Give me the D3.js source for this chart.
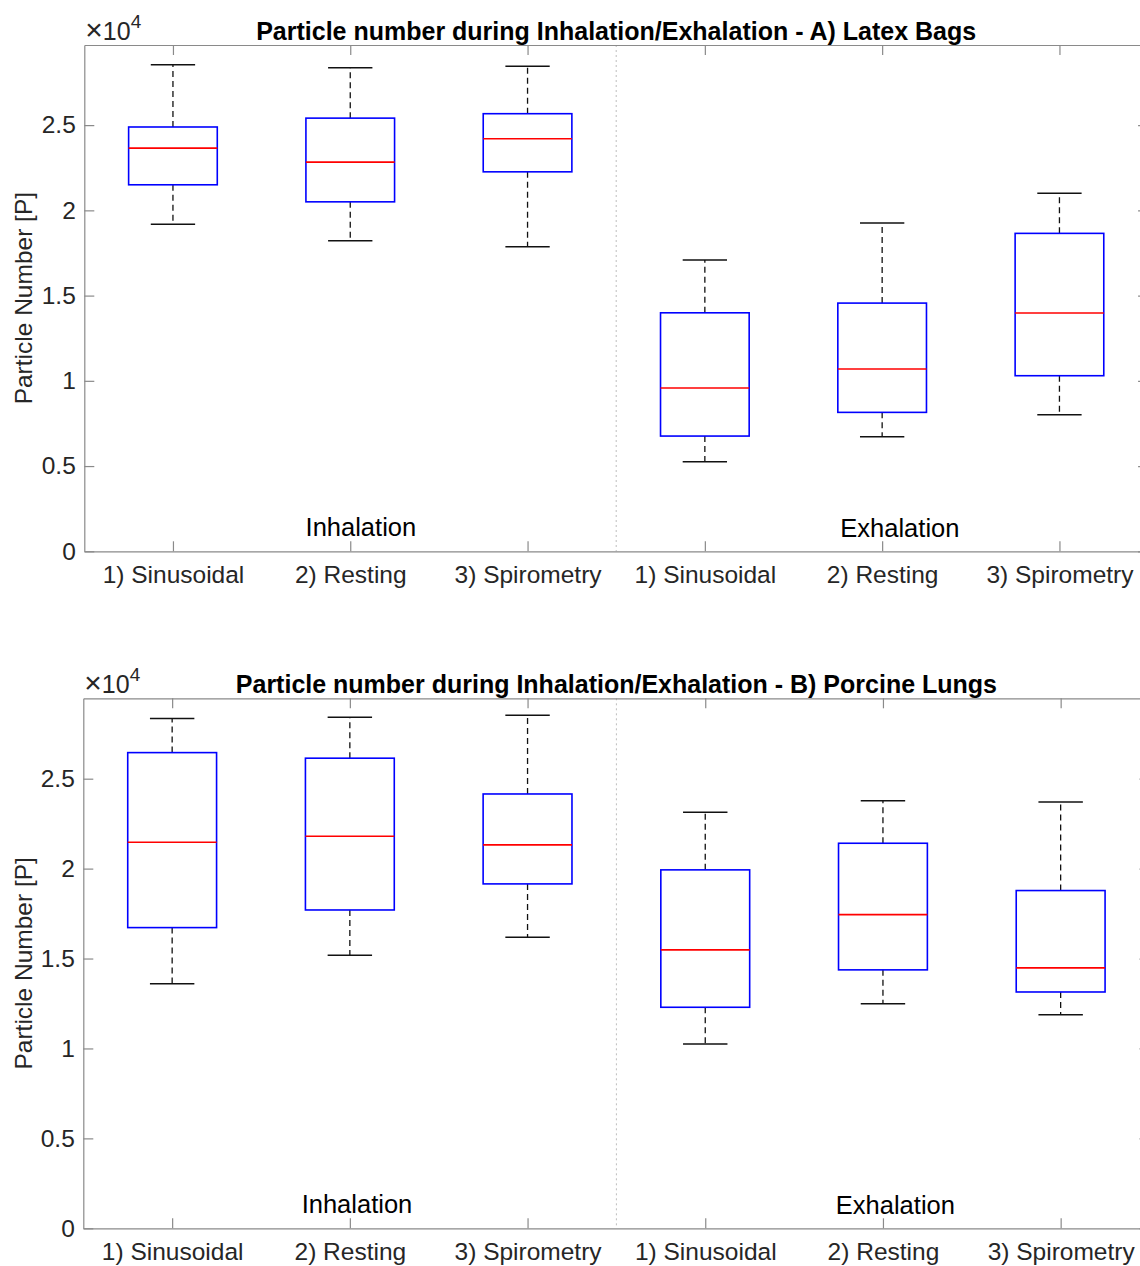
<!DOCTYPE html>
<html>
<head>
<meta charset="utf-8">
<script src="https://cdn.jsdelivr.net/npm/d3@7"></script>
<style>
  html, body { margin: 0; padding: 0; background: #fff; }
  svg { display: block; font-family: "Liberation Sans", Arial, Helvetica, sans-serif; }
</style>
</head>
<body>
<svg id="chart" width="1140" height="1266"></svg>
<script>
// Breathing patterns, three for inhalation then three for exhalation
const categories = ["1) Sinusoidal", "2) Resting", "3) Spirometry",
                    "1) Sinusoidal", "2) Resting", "3) Spirometry"];
const phaseLabels = ["Inhalation", "Exhalation"];
const yTickValues = [0, 5000, 10000, 15000, 20000, 25000];
const yTickLabels = ["0", "0.5", "1", "1.5", "2", "2.5"];
const panelTitles = [
  "Particle number during Inhalation/Exhalation - A) Latex Bags",
  "Particle number during Inhalation/Exhalation - B) Porcine Lungs"
];
const yLimits = [29700, 29470];

// A) Latex bags: whisker ends, quartiles and medians
const latexLower  = [19180, 18220, 17870,  5260,  6720,  8010];
const latexQ1     = [21500, 20500, 22260,  6760,  8150, 10300];
const latexMedian = [23650, 22830, 24200,  9580, 10690, 13980];
const latexQ3     = [24890, 25410, 25670, 13990, 14560, 18650];
const latexUpper  = [28540, 28360, 28460, 17090, 19260, 21000];

// B) Porcine lungs: whisker ends, quartiles and medians
const porcineLower  = [13600, 15180, 16180, 10250, 12480, 11880];
const porcineQ1     = [16720, 17700, 19150, 12290, 14370, 13140];
const porcineMedian = [21470, 21800, 21320, 15480, 17440, 14480];
const porcineQ3     = [26450, 26140, 24150, 19930, 21410, 18780];
const porcineUpper  = [28340, 28420, 28530, 23140, 23780, 23710];

function buildStats(lower, q1, med, q3, upper) {
  return categories.map((c, i) => ({
    pos: i + 1, lower: lower[i], q1: q1[i], median: med[i], q3: q3[i], upper: upper[i]
  }));
}

const panels = [
  { title: panelTitles[0], ymax: yLimits[0],
    stats: buildStats(latexLower, latexQ1, latexMedian, latexQ3, latexUpper),
    left: 84.3, top: 45, bottom: 551.3, step: 177.3,
    phaseX: [2.06, 5.1], phaseDy: [15, 14.2] },
  { title: panelTitles[1], ymax: yLimits[1],
    stats: buildStats(porcineLower, porcineQ1, porcineMedian, porcineQ3, porcineUpper),
    left: 83.3, top: 698.3, bottom: 1228.3, step: 177.7,
    phaseX: [2.04, 5.07], phaseDy: [15, 14.2] }
];

const svg = d3.select("#chart");
const axisColor = "#8a8a8a";
const textColor = "#262626";
const tickFont = 24.5;

panels.forEach(p => {
  const right = p.left + p.step * 6;
  const x = d3.scaleLinear().domain([0.5, 6.5]).range([p.left, right]);
  const y = d3.scaleLinear().domain([0, p.ymax]).range([p.bottom, p.top]);
  const g = svg.append("g");

  // group separator between inhalation and exhalation
  g.append("line")
    .attr("x1", x(3.5)).attr("x2", x(3.5))
    .attr("y1", y(p.ymax)).attr("y2", y(0))
    .attr("stroke", "#bdbdbd").attr("stroke-width", 1)
    .attr("stroke-dasharray", "2,3");

  // axes (ticks point inward, box closed on top and right)
  const styleAxis = sel => {
    sel.select(".domain").attr("stroke", axisColor).attr("stroke-width", 1.2);
    sel.selectAll(".tick line").attr("stroke", axisColor).attr("stroke-width", 1.2);
    sel.selectAll(".tick text").attr("fill", textColor)
      .style("font-size", tickFont + "px");
  };

  g.append("g").attr("transform", `translate(0,${p.bottom})`)
    .call(d3.axisBottom(x).tickValues([1, 2, 3, 4, 5, 6])
      .tickFormat(d => categories[d - 1]).tickSizeInner(-10).tickSizeOuter(0).tickPadding(14))
    .call(styleAxis);
  g.append("g").attr("transform", `translate(0,${p.top})`)
    .call(d3.axisTop(x).tickValues([1, 2, 3, 4, 5, 6]).tickFormat("")
      .tickSizeInner(-10).tickSizeOuter(0))
    .call(styleAxis);
  g.append("g").attr("transform", `translate(${p.left},0)`)
    .call(d3.axisLeft(y).tickValues(yTickValues)
      .tickFormat((d, i) => yTickLabels[i]).tickSizeInner(-10).tickSizeOuter(0).tickPadding(8.5))
    .call(styleAxis);
  g.append("g").attr("transform", `translate(${right},0)`)
    .call(d3.axisRight(y).tickValues(yTickValues).tickFormat("")
      .tickSizeInner(-10).tickSizeOuter(0))
    .call(styleAxis);

  // exponent marker
  const expo = g.append("text")
    .attr("x", p.left + 1).attr("y", p.top - 5)
    .attr("fill", textColor).style("font-size", "25px");
  expo.append("tspan").style("font-size", "30px").text("×");
  expo.append("tspan").text("10");
  expo.append("tspan").attr("dy", -12).style("font-size", "19px").text("4");

  // title
  g.append("text")
    .attr("x", (p.left + right) / 2).attr("y", p.top - 5)
    .attr("text-anchor", "middle")
    .attr("fill", "#000").style("font-weight", "bold").style("font-size", "25px")
    .text(p.title);

  // y label
  g.append("text")
    .attr("transform", `translate(31.5,${(p.top + p.bottom) / 2}) rotate(-90)`)
    .attr("text-anchor", "middle")
    .attr("fill", textColor).style("font-size", tickFont + "px")
    .text("Particle Number [P]");

  // phase labels
  phaseLabels.forEach((lbl, i) => {
    g.append("text")
      .attr("x", x(p.phaseX[i])).attr("y", p.bottom - p.phaseDy[i])
      .attr("text-anchor", "middle")
      .attr("fill", "#000").style("font-size", "25.5px")
      .text(lbl);
  });

  // box plots
  const boxHalf = 0.25, capHalf = 0.125;
  const boxes = g.selectAll("g.box").data(p.stats).enter().append("g").attr("class", "box");

  boxes.append("line")
    .attr("x1", d => x(d.pos)).attr("x2", d => x(d.pos))
    .attr("y1", d => y(d.q3)).attr("y2", d => y(d.upper))
    .attr("stroke", "#111").attr("stroke-width", 1.3).attr("stroke-dasharray", "6,4");
  boxes.append("line")
    .attr("x1", d => x(d.pos)).attr("x2", d => x(d.pos))
    .attr("y1", d => y(d.q1)).attr("y2", d => y(d.lower))
    .attr("stroke", "#111").attr("stroke-width", 1.3).attr("stroke-dasharray", "6,4");
  boxes.append("line")
    .attr("x1", d => x(d.pos - capHalf)).attr("x2", d => x(d.pos + capHalf))
    .attr("y1", d => y(d.upper)).attr("y2", d => y(d.upper))
    .attr("stroke", "#111").attr("stroke-width", 1.5);
  boxes.append("line")
    .attr("x1", d => x(d.pos - capHalf)).attr("x2", d => x(d.pos + capHalf))
    .attr("y1", d => y(d.lower)).attr("y2", d => y(d.lower))
    .attr("stroke", "#111").attr("stroke-width", 1.5);
  boxes.append("rect")
    .attr("x", d => x(d.pos - boxHalf))
    .attr("width", d => x(d.pos + boxHalf) - x(d.pos - boxHalf))
    .attr("y", d => y(d.q3))
    .attr("height", d => y(d.q1) - y(d.q3))
    .attr("fill", "none").attr("stroke", "#0000ff").attr("stroke-width", 1.6);
  boxes.append("line")
    .attr("x1", d => x(d.pos - boxHalf)).attr("x2", d => x(d.pos + boxHalf))
    .attr("y1", d => y(d.median)).attr("y2", d => y(d.median))
    .attr("stroke", "#ff0000").attr("stroke-width", 1.6);
});
</script>
</body>
</html>
